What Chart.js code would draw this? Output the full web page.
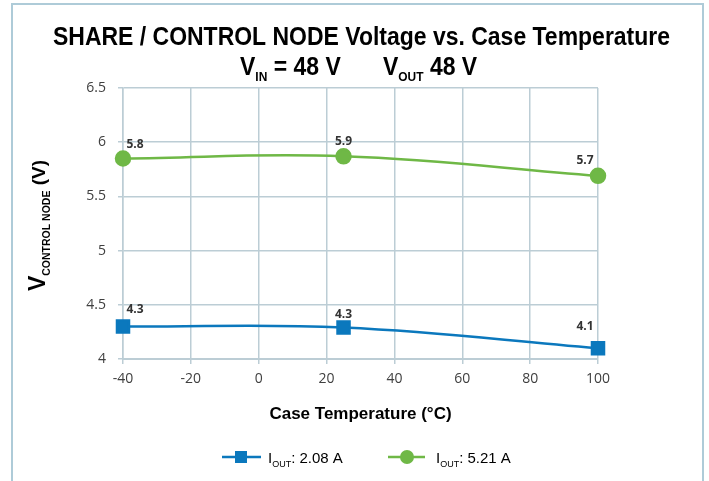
<!DOCTYPE html>
<html>
<head>
<meta charset="utf-8">
<script src="https://cdn.jsdelivr.net/npm/chart.js@4"></script>
<style>
  html, body { margin: 0; padding: 0; background: #fff; }
  #wrap { position: relative; width: 709px; height: 481px; overflow: hidden; }
  #frame { position: absolute; left: 11px; top: 3px; width: 693px; height: 500px;
           border: 2px solid #aecbd8; box-sizing: border-box; }
  canvas { position: absolute; left: 0; top: 0; }
</style>
</head>
<body>
<div id="wrap">
  <div id="frame"></div>
  <canvas id="chart" width="709" height="481"></canvas>
</div>
<script>
// data
var temps = [-40, 25, 100];
var lowCurrent = [4.30, 4.29, 4.10];     // IOUT 2.08 A
var highCurrent = [5.85, 5.87, 5.69];    // IOUT 5.21 A
var lowLabels = ["4.3", "4.3", "4.1"];
var highLabels = ["5.8", "5.9", "5.7"];
var xTicks = [-40, -20, 0, 20, 40, 60, 80, 100];
var yTicks = [4, 4.5, 5, 5.5, 6, 6.5];

var blue = "#0b78bd";
var green = "#6fb846";
var gridCol = "#bccdd5";

function pts(xs, ys) {
    return xs.map(function (x, i) { return { x: x, y: ys[i] }; });
}

// draws text pieces one after the other (for subscripts), returns end x
function subText(ctx, x, y, parts) {
    parts.forEach(function (p) {
        ctx.font = p.font;
        ctx.fillText(p.t, x, y + (p.dy || 0));
        x += ctx.measureText(p.t).width;
    });
    return x;
}
function subWidth(ctx, parts) {
    var w = 0;
    parts.forEach(function (p) { ctx.font = p.font; w += ctx.measureText(p.t).width; });
    return w;
}
// squeezed text, like a narrow font
function narrow(ctx, x, y, parts, sx) {
    ctx.save();
    ctx.translate(x, y);
    ctx.scale(sx, 1);
    subText(ctx, 0, 0, parts);
    ctx.restore();
}

var decorations = {
    id: "decorations",
    afterDraw: function (chart) {
        var ctx = chart.ctx;
        var area = chart.chartArea;
        ctx.save();
        ctx.fillStyle = "#000";
        ctx.textBaseline = "alphabetic";
        ctx.textAlign = "left";

        // title line 1
        var big = "bold 25px 'Liberation Sans', Arial";
        var sub = "bold 13px 'Liberation Sans', Arial";
        var t1 = [{ t: "SHARE / CONTROL NODE Voltage vs. Case Temperature", font: big }];
        var sx = 617 / subWidth(ctx, t1);
        narrow(ctx, 53, 45, t1, sx);

        // title line 2
        narrow(ctx, 240, 75, [{ t: "V", font: big }, { t: "IN", font: sub, dy: 6 }, { t: " = 48 V", font: big }], sx);
        narrow(ctx, 383, 75, [{ t: "V", font: big }, { t: "OUT", font: sub, dy: 6 }, { t: " 48 V", font: big }], sx);

        // y axis title (rotated)
        ctx.save();
        ctx.translate(45, (area.top + area.bottom) / 2);
        ctx.rotate(-Math.PI / 2);
        var yp = [{ t: "V", font: "bold 23px 'Liberation Sans', Arial" },
                  { t: "CONTROL NODE", font: "bold 10.5px 'Liberation Sans', Arial", dy: 5 },
                  { t: " (V)", font: "bold 19px 'Liberation Sans', Arial" }];
        var yw = subWidth(ctx, yp);
        subText(ctx, -yw / 2 - 2, 0, yp);
        ctx.restore();

        // x axis title
        ctx.font = "bold 17px 'Liberation Sans', Arial";
        ctx.textAlign = "center";
        ctx.fillText("Case Temperature (\u00b0C)", (area.left + area.right) / 2, 419);
        ctx.textAlign = "left";

        // data labels
        ctx.font = "bold 12px 'Open Sans', 'DejaVu Sans'";
        ctx.fillStyle = "#333";
        ctx.textAlign = "center";
        var dx = [12, 0, -13];
        var dys = [[-13, -10, -18], [-10, -11, -12]];
        [[0, lowLabels], [1, highLabels]].forEach(function (d) {
            var meta = chart.getDatasetMeta(d[0]);
            meta.data.forEach(function (pt, i) {
                ctx.fillText(d[1][i], pt.x + dx[i], pt.y + dys[d[0]][i]);
            });
        });
        ctx.textAlign = "left";

        // legend
        var ly = 457;
        ctx.lineWidth = 2.5;
        ctx.strokeStyle = blue;
        ctx.beginPath(); ctx.moveTo(222, ly); ctx.lineTo(261, ly); ctx.stroke();
        ctx.fillStyle = blue;
        ctx.fillRect(235, ly - 6, 12, 12);
        ctx.strokeStyle = green;
        ctx.beginPath(); ctx.moveTo(388, ly); ctx.lineTo(425, ly); ctx.stroke();
        ctx.fillStyle = green;
        ctx.beginPath(); ctx.arc(407, ly, 7, 0, Math.PI * 2); ctx.fill();

        ctx.fillStyle = "#000";
        var lf = "15px 'Liberation Sans', Arial";
        var ls = "9px 'Liberation Sans', Arial";
        subText(ctx, 268, ly + 6, [{ t: "I", font: lf }, { t: "OUT", font: ls, dy: 4 }, { t: ": 2.08 A", font: lf }]);
        subText(ctx, 436, ly + 6, [{ t: "I", font: lf }, { t: "OUT", font: ls, dy: 4 }, { t: ": 5.21 A", font: lf }]);
        ctx.restore();
    }
};

var tickFont = { family: "'Open Sans', 'DejaVu Sans'", size: 14 };

new Chart(document.getElementById("chart"), {
    type: "line",
    data: {
        datasets: [{
            label: "IOUT: 2.08 A",
            data: pts(temps, lowCurrent),
            borderColor: blue,
            backgroundColor: blue,
            borderWidth: 2.5,
            pointStyle: "rect",
            pointRadius: 8.5,
            pointHoverRadius: 8.5,
            tension: 0.4,
            clip: false
        }, {
            label: "IOUT: 5.21 A",
            data: pts(temps, highCurrent),
            borderColor: green,
            backgroundColor: green,
            borderWidth: 2.5,
            pointStyle: "circle",
            pointRadius: 7,
            pointHoverRadius: 7,
            tension: 0.4,
            clip: false
        }]
    },
    options: {
        responsive: false,
        animation: false,
        layout: { padding: { left: 0, right: 111, top: 88, bottom: 92 } },
        plugins: { legend: { display: false }, title: { display: false }, tooltip: { enabled: false } },
        scales: {
            x: {
                type: "linear",
                min: xTicks[0],
                max: xTicks[xTicks.length - 1],
                afterBuildTicks: function (s) { s.ticks = xTicks.map(function (v) { return { value: v }; }); },
                afterFit: function (s) { s.height = 30; },
                grid: { color: gridCol, lineWidth: 1.5, tickLength: 5 },
                border: { color: gridCol, width: 2 },
                ticks: { padding: 7, color: "#404040", font: tickFont,
                         callback: function (v) { return String(v); } }
            },
            y: {
                min: yTicks[0],
                max: yTicks[yTicks.length - 1],
                afterBuildTicks: function (s) { s.ticks = yTicks.map(function (v) { return { value: v }; }); },
                afterFit: function (s) { s.width = 123; },
                grid: { color: gridCol, lineWidth: 1.5, tickLength: 5 },
                border: { color: gridCol, width: 1.5 },
                ticks: { padding: 12, color: "#404040", font: tickFont,
                         callback: function (v) { return String(v); } }
            }
        }
    },
    plugins: [decorations]
});
</script>
</body>
</html>
